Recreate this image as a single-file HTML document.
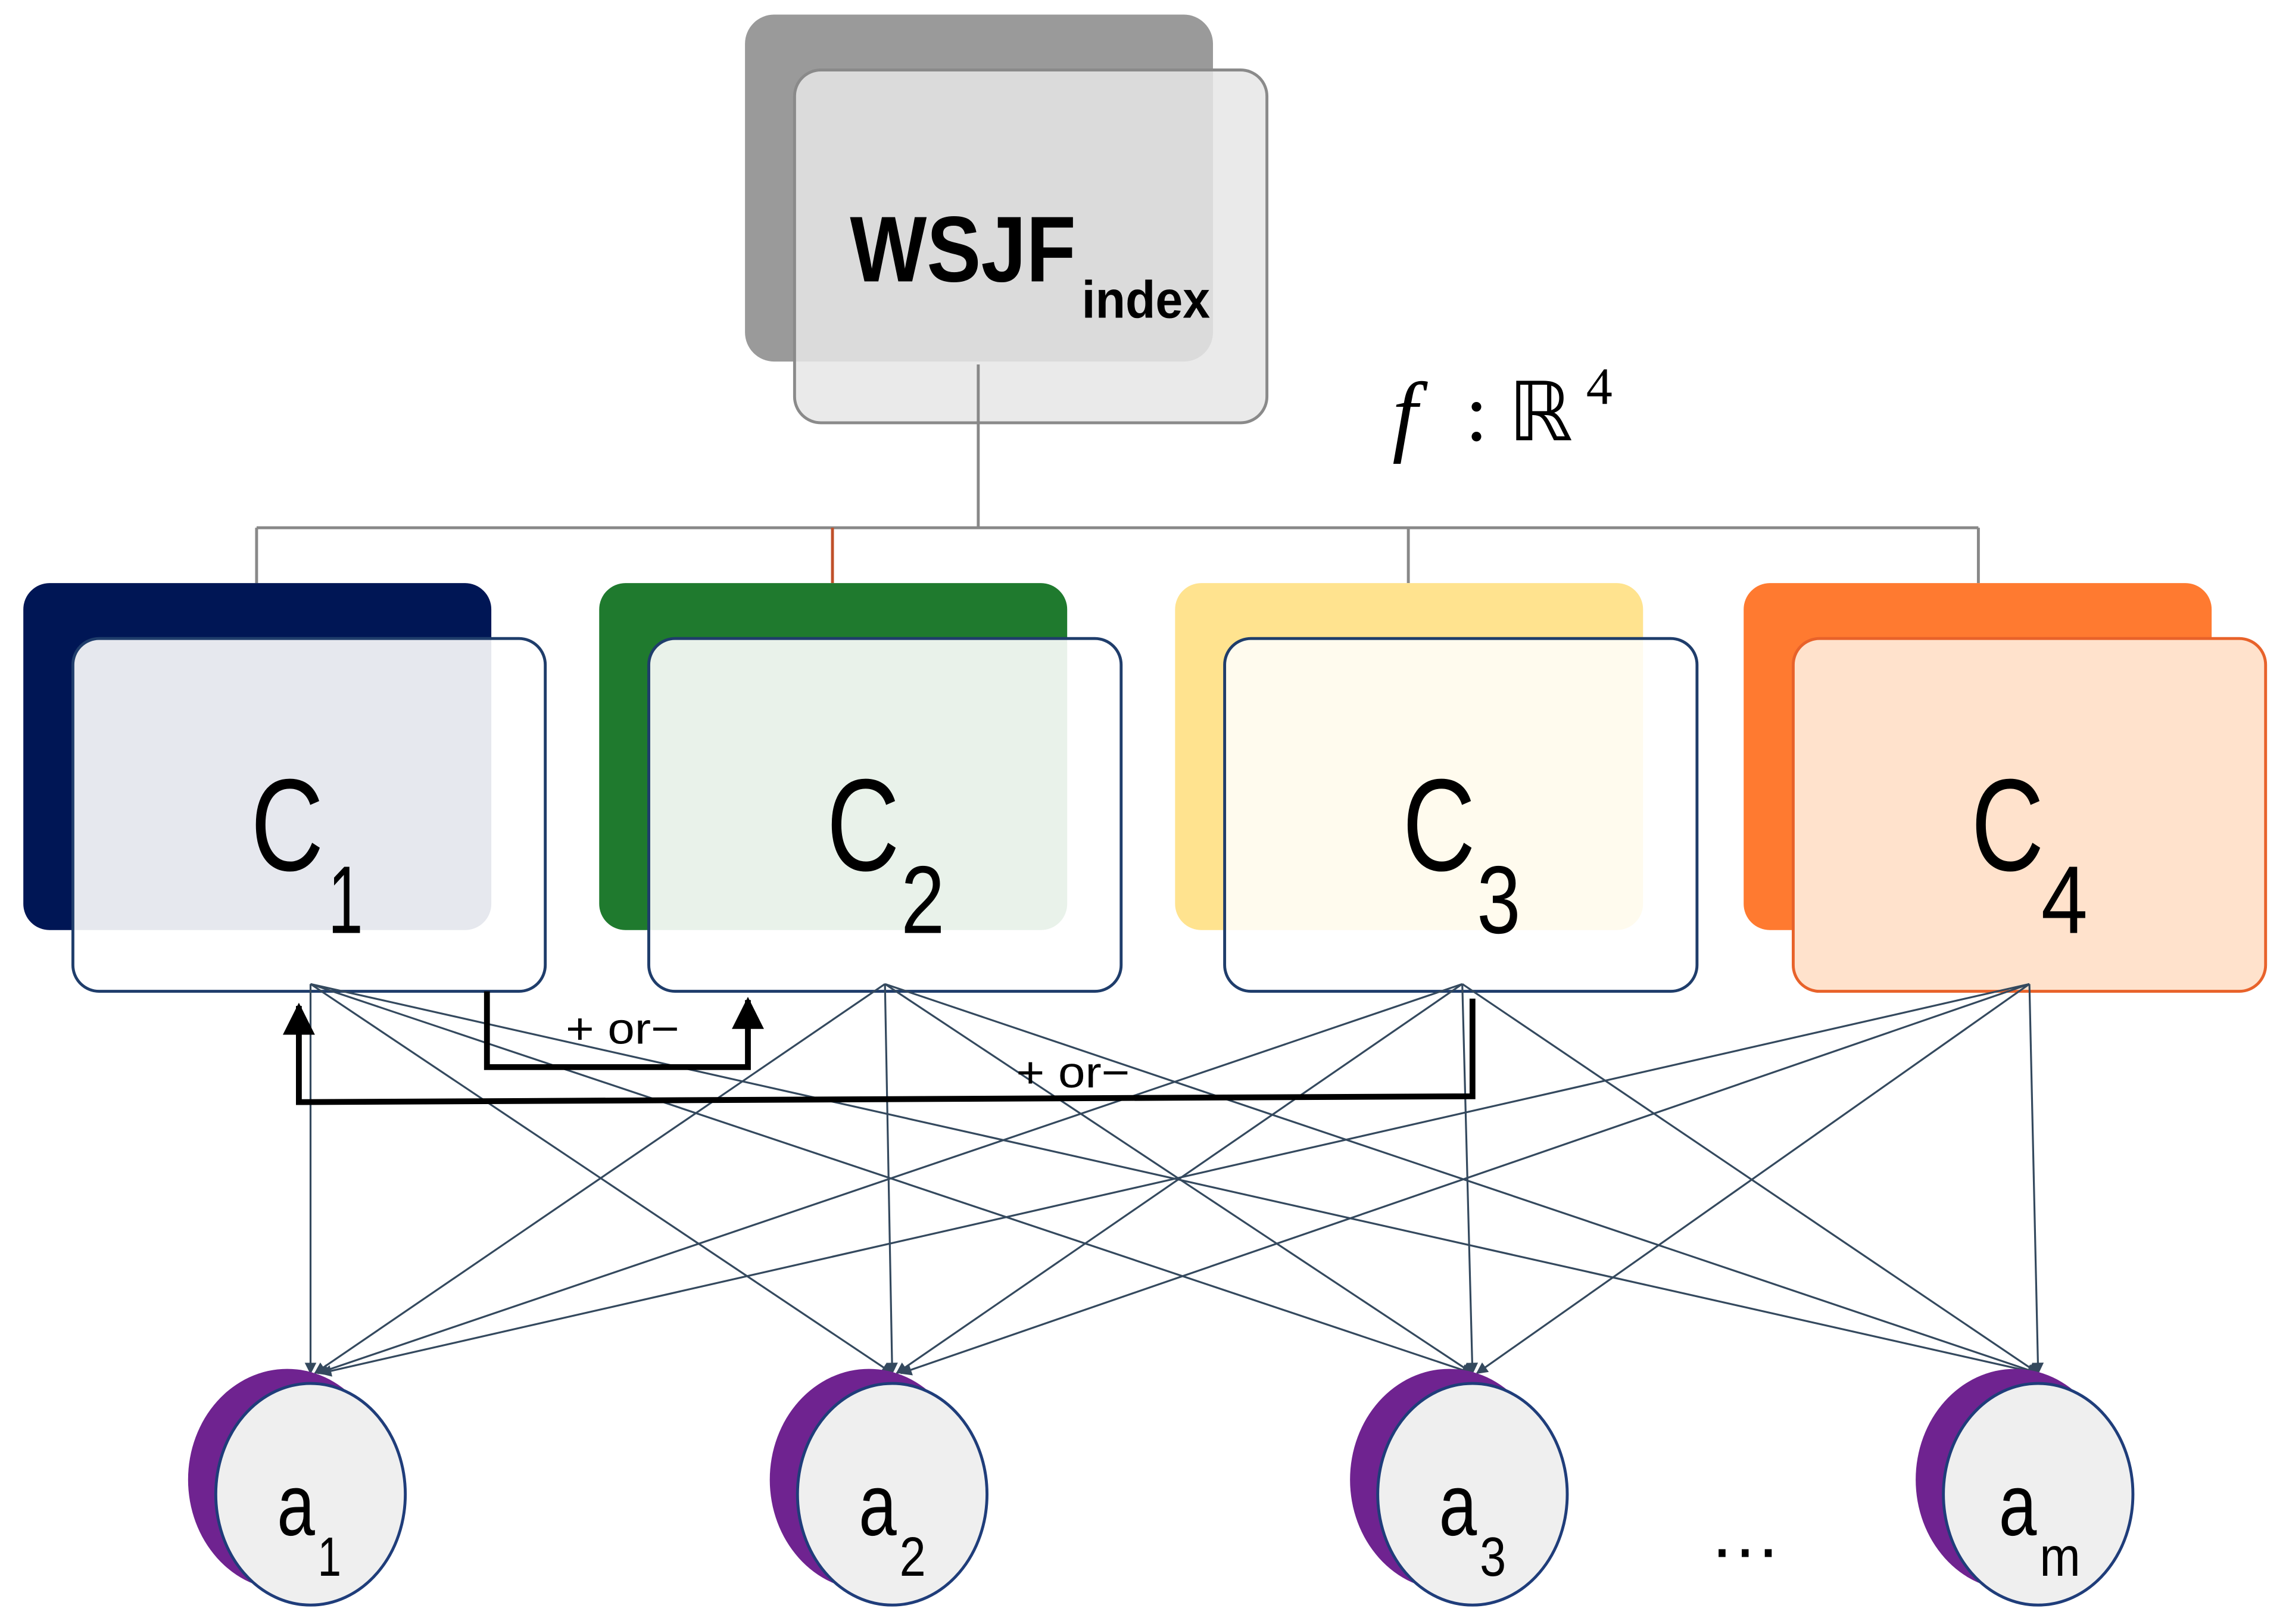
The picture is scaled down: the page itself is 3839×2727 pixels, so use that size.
<!DOCTYPE html>
<html><head><meta charset="utf-8"><style>html,body{margin:0;padding:0;background:#fff}svg{display:block}</style></head>
<body>
<svg width="3839" height="2727" viewBox="0 0 1568 1114" preserveAspectRatio="none" xmlns="http://www.w3.org/2000/svg" font-family="Liberation Sans, sans-serif">
<defs>
<marker id="ah" viewBox="0 0 10 10" refX="9" refY="5" markerWidth="9" markerHeight="8" orient="auto-start-reverse" markerUnits="userSpaceOnUse"><path d="M0,0L10,5L0,10z" fill="#34495e"/></marker>
<marker id="bh" viewBox="0 0 10 10" refX="9" refY="5" markerWidth="30" markerHeight="22" orient="auto" markerUnits="userSpaceOnUse"><path d="M0,0L10,5L0,10z" fill="#000"/></marker>
</defs>
<rect x="511" y="10" width="321" height="238" rx="20" fill="#9a9a9a"/>
<rect x="545" y="48" width="324" height="242" rx="18" fill="#e6e6e6" fill-opacity="0.85" stroke="#8a8a8a" stroke-width="2"/>
<text x="583" y="193" font-size="64" font-weight="bold" textLength="155" lengthAdjust="spacingAndGlyphs">WSJF</text>
<text x="742" y="218" font-size="36" font-weight="bold" textLength="88" lengthAdjust="spacingAndGlyphs">index</text>
<text x="955" y="305" font-size="62" font-family="Liberation Serif, serif" font-style="italic">f</text>
<text x="1005" y="302" font-size="56" font-family="Liberation Serif, serif">: ℝ</text>
<text x="1088" y="277" font-size="36" font-family="Liberation Serif, serif">4</text>
<g stroke="#888" stroke-width="2" fill="none">
<line x1="671" y1="250" x2="671" y2="362"/>
<line x1="176" y1="362" x2="1357" y2="362"/>
<line x1="176" y1="362" x2="176" y2="400"/>
<line x1="966" y1="362" x2="966" y2="400"/>
<line x1="1357" y1="362" x2="1357" y2="400"/>
</g>
<line x1="571" y1="362" x2="571" y2="400" stroke="#c0502a" stroke-width="2"/>
<rect x="16" y="400" width="321" height="238" rx="18" fill="#001655"/>
<rect x="50" y="438" width="324" height="242" rx="18" fill="#fff" fill-opacity="0.9" stroke="#1f3d6b" stroke-width="2"/>
<rect x="411" y="400" width="321" height="238" rx="18" fill="#1f7a2e"/>
<rect x="445" y="438" width="324" height="242" rx="18" fill="#fff" fill-opacity="0.9" stroke="#1f3d6b" stroke-width="2"/>
<rect x="806" y="400" width="321" height="238" rx="18" fill="#ffe38f"/>
<rect x="840" y="438" width="324" height="242" rx="18" fill="#fff" fill-opacity="0.85" stroke="#1f3d6b" stroke-width="2"/>
<rect x="1196" y="400" width="321" height="238" rx="18" fill="#ff7a30"/>
<rect x="1230" y="438" width="324" height="242" rx="18" fill="#ffe2cc" stroke="#e8622a" stroke-width="2"/>
<g font-size="90">
<text x="172" y="597" textLength="50" lengthAdjust="spacingAndGlyphs">C</text><text x="225" y="640" font-size="66" textLength="24" lengthAdjust="spacingAndGlyphs">1</text>
<text x="567" y="597" textLength="50" lengthAdjust="spacingAndGlyphs">C</text><text x="618" y="640" font-size="66" textLength="30" lengthAdjust="spacingAndGlyphs">2</text>
<text x="962" y="597" textLength="50" lengthAdjust="spacingAndGlyphs">C</text><text x="1013" y="640" font-size="66" textLength="30" lengthAdjust="spacingAndGlyphs">3</text>
<text x="1352" y="597" textLength="50" lengthAdjust="spacingAndGlyphs">C</text><text x="1400" y="640" font-size="66" textLength="32" lengthAdjust="spacingAndGlyphs">4</text>
</g>
<g stroke="#34495e" stroke-width="1.3" marker-end="url(#ah)">
<line x1="213" y1="675" x2="213" y2="942"/><line x1="213" y1="675" x2="612" y2="942"/><line x1="213" y1="675" x2="1010" y2="942"/><line x1="213" y1="675" x2="1398" y2="942"/>
<line x1="607" y1="675" x2="216" y2="942"/><line x1="607" y1="675" x2="612" y2="942"/><line x1="607" y1="675" x2="1010" y2="942"/><line x1="607" y1="675" x2="1398" y2="942"/>
<line x1="1003" y1="675" x2="218" y2="942"/><line x1="1003" y1="675" x2="615" y2="942"/><line x1="1003" y1="675" x2="1010" y2="942"/><line x1="1003" y1="675" x2="1398" y2="942"/>
<line x1="1392" y1="675" x2="220" y2="942"/><line x1="1392" y1="675" x2="618" y2="942"/><line x1="1392" y1="675" x2="1013" y2="942"/><line x1="1392" y1="675" x2="1398" y2="942"/>
</g>
<g stroke="#000" stroke-width="4" fill="none">
<polyline points="334,680 334,732 513,732 513,686" marker-end="url(#bh)"/>
<polyline points="1010,685 1010,752 205,756 205,690" marker-end="url(#bh)"/>
</g>
<text x="388" y="716" font-size="30" textLength="78" lengthAdjust="spacingAndGlyphs">+ or−</text>
<text x="697" y="746" font-size="30" textLength="78" lengthAdjust="spacingAndGlyphs">+ or−</text>
<g stroke="#1f3d7a" stroke-width="2">
<ellipse cx="197" cy="1015" rx="68" ry="76" fill="#6f2390" stroke="none"/>
<ellipse cx="213" cy="1025" rx="65" ry="76" fill="#efefef"/>
<ellipse cx="596" cy="1015" rx="68" ry="76" fill="#6f2390" stroke="none"/>
<ellipse cx="612" cy="1025" rx="65" ry="76" fill="#efefef"/>
<ellipse cx="994" cy="1015" rx="68" ry="76" fill="#6f2390" stroke="none"/>
<ellipse cx="1010" cy="1025" rx="65" ry="76" fill="#efefef"/>
<ellipse cx="1382" cy="1015" rx="68" ry="76" fill="#6f2390" stroke="none"/>
<ellipse cx="1398" cy="1025" rx="65" ry="76" fill="#efefef"/>
</g>
<g font-size="60">
<text x="190" y="1053" textLength="26" lengthAdjust="spacingAndGlyphs">a</text><text x="218" y="1081" font-size="38" textLength="16" lengthAdjust="spacingAndGlyphs">1</text>
<text x="589" y="1053" textLength="26" lengthAdjust="spacingAndGlyphs">a</text><text x="617" y="1081" font-size="38" textLength="18" lengthAdjust="spacingAndGlyphs">2</text>
<text x="987" y="1053" textLength="26" lengthAdjust="spacingAndGlyphs">a</text><text x="1015" y="1081" font-size="38" textLength="18" lengthAdjust="spacingAndGlyphs">3</text>
<text x="1371" y="1053" textLength="26" lengthAdjust="spacingAndGlyphs">a</text><text x="1399" y="1081" font-size="38" textLength="28" lengthAdjust="spacingAndGlyphs">m</text>
</g>
<text x="1172" y="1068" font-size="50">…</text>
</svg>
</body></html>
